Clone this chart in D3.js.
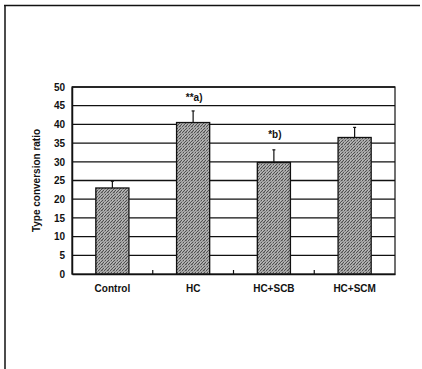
<!DOCTYPE html>
<html><head><meta charset="utf-8">
<script src="https://cdn.jsdelivr.net/npm/d3@7"></script>
<style>body{margin:0;background:#fff}svg{display:block}</style>
</head><body>
<script>
const categories = ["Control", "HC", "HC+SCB", "HC+SCM"];
const values = [23, 40.5, 29.8, 36.5];
const errors = [1.8, 3.1, 3.4, 2.7];
const annotations = ["", "**a)", "*b)", ""];
const annotationLevels = [0, 46.2, 36.4, 0];
const yTicks = [0, 5, 10, 15, 20, 25, 30, 35, 40, 45, 50];

const W = 422, H = 369;
const svg = d3.select("body").append("svg").attr("width", W).attr("height", H);
const defs = svg.append("defs");
const pat = defs.append("pattern").attr("id", "hatch").attr("patternUnits", "userSpaceOnUse")
  .attr("width", 6).attr("height", 6);
pat.append("rect").attr("width", 6).attr("height", 6).attr("fill", "#a8a8a8");
pat.append("path").attr("d", "M-1,1.5 l2.5,-2.5 M0,6 l6,-6 M4.5,7 l2.5,-2.5 M0,3 l3,-3 M3,6 l3,-3")
  .attr("stroke", "#505050").attr("stroke-width", 1);
pat.append("path").attr("d", "M1,1 h1 M4,2 h1 M2,4 h1 M5,5 h1").attr("stroke", "#e0e0e0").attr("stroke-width", 0.8);

// outer frame (left and top)
svg.append("line").attr("x1", 5).attr("x2", 5).attr("y1", 5).attr("y2", H).attr("stroke", "#111").attr("stroke-width", 1.5);
svg.append("line").attr("x1", 4).attr("x2", 420).attr("y1", 5.5).attr("y2", 5.5).attr("stroke", "#111").attr("stroke-width", 1.5);

const m = {l: 72, r: 395, t: 87, b: 274};
const x = d3.scaleBand().domain(categories).range([m.l, m.r]).paddingInner(0.59).paddingOuter(0.295);
const y = d3.scaleLinear().domain([0, 50]).range([m.b, m.t]);
const g = svg.append("g");
const font = "Liberation Sans, Arial, sans-serif";

// gridlines
g.selectAll(".grid").data(yTicks.filter(d => d > 0)).enter().append("line")
  .attr("x1", m.l).attr("x2", m.r).attr("y1", d => y(d)).attr("y2", d => y(d))
  .attr("stroke", "#111").attr("stroke-width", 1.3);
// plot frame
g.append("rect").attr("x", m.l).attr("y", m.t).attr("width", m.r - m.l).attr("height", m.b - m.t)
  .attr("fill", "none").attr("stroke", "#111").attr("stroke-width", 1.2);

// error bars
g.selectAll(".err").data(categories).enter().append("line")
  .attr("x1", d => x(d) + x.bandwidth() / 2).attr("x2", d => x(d) + x.bandwidth() / 2)
  .attr("y1", (d, i) => y(values[i])).attr("y2", (d, i) => y(values[i] + errors[i]))
  .attr("stroke", "#111").attr("stroke-width", 1.2);
g.selectAll(".cap").data(categories).enter().append("line")
  .attr("x1", d => x(d) + x.bandwidth() / 2 - 1.5).attr("x2", d => x(d) + x.bandwidth() / 2 + 1.5)
  .attr("y1", (d, i) => y(values[i] + errors[i])).attr("y2", (d, i) => y(values[i] + errors[i]))
  .attr("stroke", "#111").attr("stroke-width", 1.2);

// bars
g.selectAll(".bar").data(categories).enter().append("rect")
  .attr("x", d => x(d)).attr("width", x.bandwidth())
  .attr("y", (d, i) => y(values[i])).attr("height", (d, i) => y(0) - y(values[i]))
  .attr("fill", "url(#hatch)").attr("stroke", "#111").attr("stroke-width", 1.3);

// x axis
const xAxis = g.append("g").attr("transform", `translate(0,${m.b})`)
  .call(d3.axisBottom(x).tickSize(0).tickPadding(11));
xAxis.select(".domain").attr("stroke", "#111").attr("stroke-width", 1.5);
xAxis.selectAll("text").attr("font-family", font).attr("font-weight", "bold").attr("font-size", 10).attr("fill", "#111");
// category separator ticks
const seps = categories.slice(1).map(c => x(c) - (x.step() - x.bandwidth()) / 2);
g.selectAll(".sep").data(seps).enter().append("line")
  .attr("x1", d => d).attr("x2", d => d).attr("y1", m.b).attr("y2", m.b - 4)
  .attr("stroke", "#111").attr("stroke-width", 1.2);

// y axis
const yAxis = g.append("g").attr("transform", `translate(${m.l},0)`)
  .call(d3.axisLeft(y).tickValues(yTicks).tickSize(0).tickPadding(7));
yAxis.select(".domain").attr("stroke", "#111").attr("stroke-width", 1.5);
yAxis.selectAll("text").attr("font-family", font).attr("font-weight", "bold").attr("font-size", 10).attr("fill", "#111");

svg.append("text").attr("transform", `translate(40,${(m.t + m.b) / 2}) rotate(-90)`)
  .attr("text-anchor", "middle").attr("font-family", font)
  .attr("font-weight", "bold").attr("font-size", 10).attr("fill", "#111").text("Type conversion ratio");

// annotations
g.selectAll(".ann").data(categories).enter().append("text")
  .attr("x", d => x(d) + x.bandwidth() / 2 + 1).attr("y", (d, i) => y(annotationLevels[i]))
  .attr("text-anchor", "middle").attr("font-family", font).attr("font-weight", "bold")
  .attr("font-size", 10).attr("fill", "#111").text((d, i) => annotations[i]);
</script>
</body></html>
